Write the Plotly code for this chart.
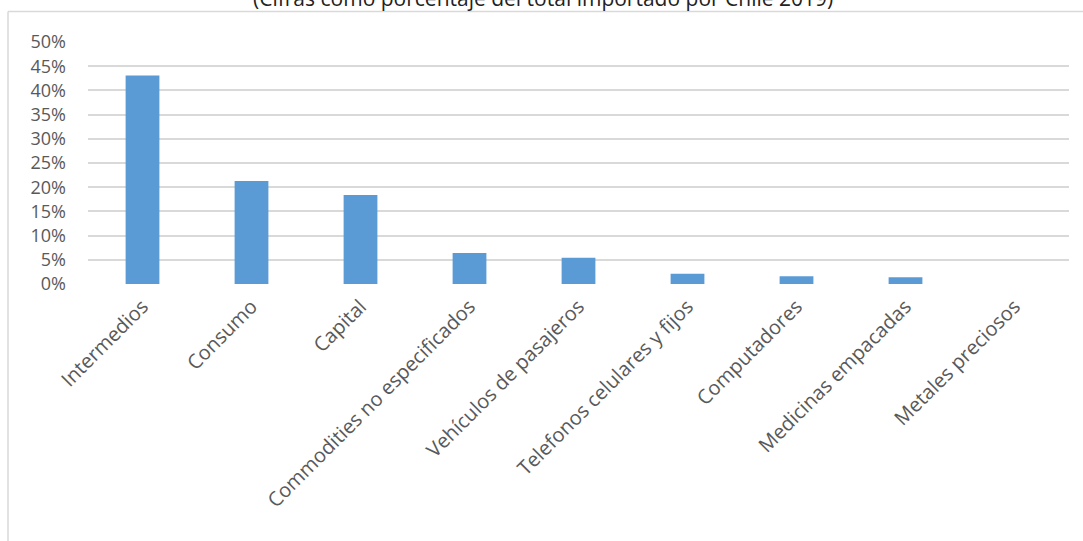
import plotly.graph_objects as go

categories = ["Intermedios", "Consumo", "Capital", "Commodities no especificados",
              "Vehículos de pasajeros", "Telefonos celulares y fijos", "Computadores",
              "Medicinas empacadas", "Metales preciosos"]
values = [0.431, 0.213, 0.184, 0.064, 0.054, 0.021, 0.016, 0.014, 0.0]
tick_vals = [0, 0.05, 0.10, 0.15, 0.20, 0.25, 0.30, 0.35, 0.40, 0.45, 0.50]
tick_text = ["0%", "5%", "10%", "15%", "20%", "25%", "30%", "35%", "40%", "45%", "50%"]
title_text = "(Cifras como porcentaje del total importado por Chile 2019)"

W, H = 1083, 541
L, R, T, B = 88, 14, 42, 257
pw = W - L - R
ph = H - T - B

def px(x):
    return (x - L) / pw

def py(y):
    return (H - B - y) / ph

fig = go.Figure()
fig.add_trace(go.Bar(
    x=categories, y=values,
    marker=dict(color="#5b9bd5", line=dict(width=0)),
    width=0.31,
))

font_fam = "Open Sans, sans-serif"
fig.update_layout(
    width=W, height=H,
    margin=dict(l=L, r=R, t=T, b=B),
    paper_bgcolor="white", plot_bgcolor="white",
    showlegend=False,
    font=dict(family=font_fam, color="#595959", size=19),
    xaxis=dict(showgrid=False, showline=False, tickangle=-45, ticks="",
               ticklabelstandoff=6,
               tickfont=dict(size=20, color="#595959"), zeroline=False),
    yaxis=dict(range=[0, 0.5], tickvals=tick_vals, ticktext=tick_text,
               showgrid=True, gridcolor="#d9d9d9", gridwidth=1.5,
               zeroline=False, showline=False, ticks="",
               ticklabelstandoff=21,
               tickfont=dict(size=18, color="#595959")),
    shapes=[
        dict(type="line", xref="paper", yref="paper", x0=px(8), x1=px(1083),
             y0=py(11.5), y1=py(11.5), line=dict(color="#d9d9d9", width=1.5)),
        dict(type="line", xref="paper", yref="paper", x0=px(8), x1=px(8),
             y0=py(11.5), y1=py(545), line=dict(color="#d9d9d9", width=1.5)),
    ],
    annotations=[
        dict(text=title_text, xref="paper", yref="paper", x=px(543), y=py(-2),
             xanchor="center", yanchor="middle", showarrow=False,
             font=dict(size=21, color="#222222", family=font_fam)),
    ],
)

fig.write_html("out.html")
